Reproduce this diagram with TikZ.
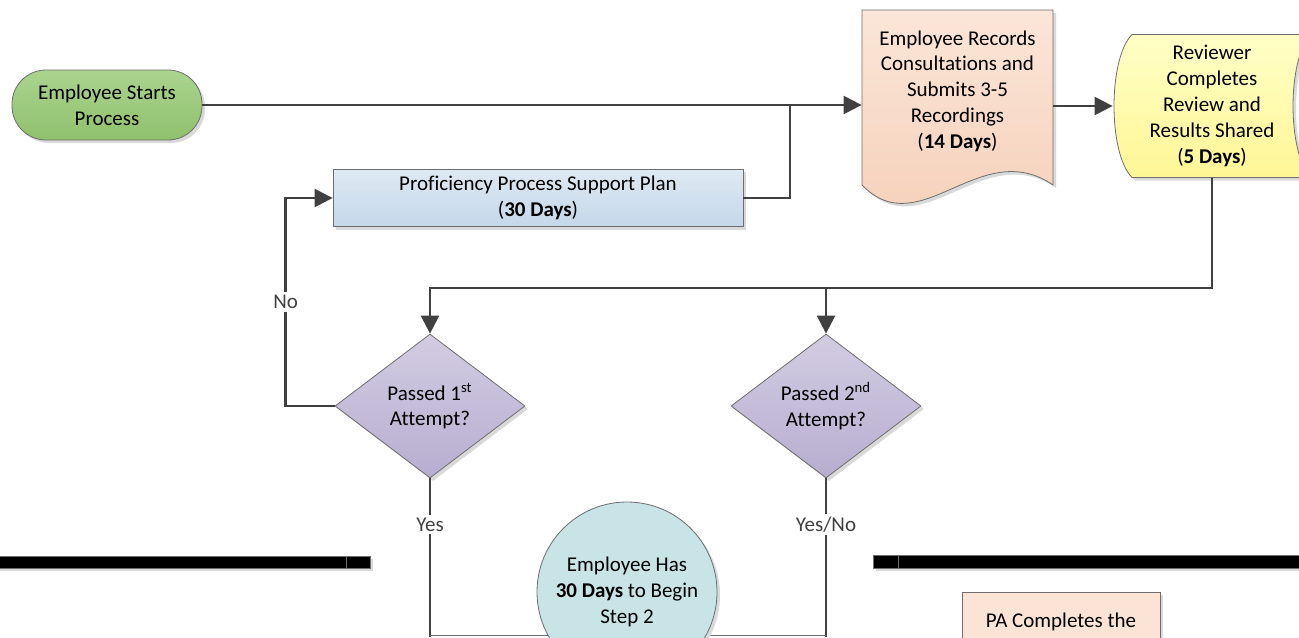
\documentclass[tikz,border=0pt]{standalone}
\usepackage{fontspec}
\setmainfont{Carlito}[Ligatures=NoCommon]
\usepackage{tikz}
\usetikzlibrary{shapes.geometric, arrows.meta, positioning, shadows}
\definecolor{linegray}{RGB}{64, 64, 64}
\definecolor{edgegray}{RGB}{110, 110, 110}

\begin{document}
\begin{tikzpicture}[
    x=0.5pt, y=-0.5pt,
    every node/.style={font=\fontsize{10.5pt}{12.9pt}\selectfont},
    softshadow/.style={drop shadow={shadow xshift=1.5pt, shadow yshift=-1.5pt,
                       fill=black!15, opacity=1}},
    terminal/.style={rectangle, rounded corners=17pt, draw=edgegray,
                top color={rgb,255:red,171;green,212;blue,143},
                bottom color={rgb,255:red,143;green,193;blue,108},
                minimum width=95pt, minimum height=35pt, align=center, softshadow},
    planbox/.style={rectangle, draw=edgegray,
                top color={rgb,255:red,222;green,233;blue,243},
                bottom color={rgb,255:red,196;green,215;blue,233},
                minimum width=205pt, minimum height=28pt, align=center, softshadow},
    decision/.style={diamond, aspect=1.3, draw=edgegray, inner sep=0pt,
                top color={rgb,255:red,210;green,204;blue,226},
                bottom color={rgb,255:red,183;green,174;blue,208},
                minimum width=95pt, minimum height=72pt, align=center, softshadow},
    waitcircle/.style={circle, draw=edgegray, fill={rgb,255:red,200;green,228;blue,230},
                minimum size=90pt, align=center, softshadow},
    pabox/.style={rectangle, draw=edgegray, fill={rgb,255:red,251;green,228;blue,213},
                minimum width=99pt, text height=8pt, inner ysep=9.5pt,
                text depth=40pt, softshadow},
    textonly/.style={align=center, inner sep=0pt},
    arrow/.style={-{Triangle[length=9pt, width=9pt]}, line width=1.15pt, linegray},
    wire/.style={line width=1.15pt, linegray},
    lbl/.style={fill=white, inner sep=1.5pt}
]
    \useasboundingbox (0,0) rectangle (1299,637);
    \clip (0,0) rectangle (1299,637);

    % Swim lane bars
    \filldraw[fill=black, draw=edgegray, softshadow] (-5,556) rectangle (370,568);
    \draw[edgegray] (346,556) -- (346,568);
    \filldraw[fill=black, draw=edgegray, softshadow] (873,555) rectangle (1320,568);
    \draw[edgegray] (898,555) -- (898,568);

    % Document outline (wavy bottom)
    \path[draw=edgegray, softshadow,
          top color={rgb,255:red,251;green,230;blue,216},
          bottom color={rgb,255:red,245;green,206;blue,182}]
        (862,10) -- (1053,10) -- (1053,185)
        .. controls (980,135) and (920,245) .. (862,185) -- cycle;

    % Stored data outline
    \path[draw=edgegray, softshadow,
          top color={rgb,255:red,255;green,255;blue,198},
          bottom color={rgb,255:red,255;green,246;blue,150}]
        (1132,34.5) -- (1311,34.5)
        .. controls (1287,58.5) and (1287,153.5) .. (1311,177.5)
        -- (1132,177.5)
        .. controls (1108,153.5) and (1108,58.5) .. (1132,34.5) -- cycle;

    % Start
    \node[terminal] (start) at (107,105) {Employee Starts\\Process};

    % Recordings
    \node[textonly, minimum width=95.5pt] (record) at (957.5,91)
        {Employee Records\\Consultations and\\Submits 3-5\\Recordings\\(\textbf{14 Days})};

    % Review
    \node[textonly, minimum width=99pt, minimum height=71.5pt] (review) at (1212,106)
        {Reviewer\\Completes\\Review and\\Results Shared\\(\textbf{5 Days})};

    % Support plan
    \node[planbox] (plan) at (538,198) {Proficiency Process Support Plan\\(\textbf{30 Days})};

    % Decisions
    \node[decision] (try1) at (430,406) {Passed 1\textsuperscript{st}\\Attempt?};
    \node[decision] (try2) at (826,406) {Passed 2\textsuperscript{nd}\\Attempt?};

    % Helper points
    \coordinate (merge) at (790,106);
    \coordinate (bus) at (0,288);
    \coordinate (floor) at (0,637);

    % Connections
    \draw[arrow] (start) -- (start -| record.west);
    \draw[arrow] (review.west -| record.east) -- (review.west);
    \draw[wire] (plan.east) -| (merge);
    \draw[arrow] (review.south) |- (try1.north |- bus) -- (try1.north);
    \draw[arrow] (try2.north |- bus) -- (try2.north);
    \draw[arrow] (try1.west) -- ++(-49,0) |- node[lbl, pos=0.25] {No} (plan.west);
    \draw[wire] (try1.south) -- node[lbl, pos=0.29] {Yes} (try1.south |- floor);
    \draw[wire] (try2.south) -- node[lbl, pos=0.29] {Yes/No} (try2.south |- floor);
    \draw[edgegray] ([yshift=1pt]try1.south |- floor) -- ([yshift=1pt]try2.south |- floor);

    % Waiting period
    \node[waitcircle] (wait) at (627,592) {Employee Has\\\textbf{30 Days} to Begin\\Step 2};

    % PA step
    \node[pabox, anchor=north] (paform) at (1061,592) {PA Completes the};

\end{tikzpicture}
\end{document}
